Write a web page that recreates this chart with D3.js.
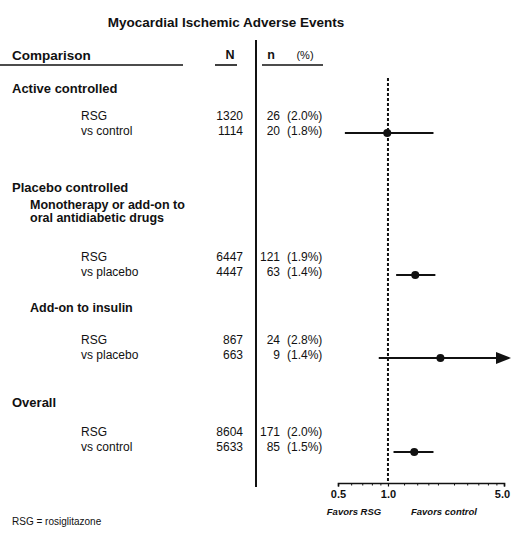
<!DOCTYPE html>
<html>
<head>
<meta charset="utf-8">
<script src="https://cdn.jsdelivr.net/npm/d3@7"></script>
<style>
  html, body { margin: 0; padding: 0; background: #fff; }
  svg { display: block; }
  text { font-family: "Liberation Sans", Arial, Helvetica, sans-serif; fill: #111; }
</style>
</head>
<body>
<svg id="chart" width="511" height="533"></svg>
<script>
// ---------------- data ----------------
const chartTitle = "Myocardial Ischemic Adverse Events";
const headerLabels = ["Comparison", "N", "n", "(%)"];
const groupLabels = ["Active controlled", "Placebo controlled", "Overall"];
const subgroupLabels = [["Monotherapy or add-on to", "oral antidiabetic drugs"], ["Add-on to insulin"]];
const armLabels = ["RSG", "vs control", "RSG", "vs placebo", "RSG", "vs placebo", "RSG", "vs control"];
const armN = [1320, 1114, 6447, 4447, 867, 663, 8604, 5633];
const armEvents = [26, 20, 121, 63, 24, 9, 171, 85];
const armPct = ["2.0", "1.8", "1.9", "1.4", "2.8", "1.4", "2.0", "1.5"];
const oddsRatio = [0.99, 1.46, 2.07, 1.44];
const ciLower = [0.55, 1.12, 0.88, 1.08];
const ciUpper = [1.88, 1.93, 5.0, 1.88];
const ciBeyondAxis = [false, false, true, false];
const axisTickLabels = [0.5, 1.0, 5.0];
const axisMinorTicks = [0.6, 0.7, 0.8, 0.9, 1.25, 1.5, 1.75, 2, 2.5, 3, 3.5, 4, 4.5];
const favorLabels = ["Favors RSG", "Favors control"];
const footnote = "RSG = rosiglitazone";

// ---------------- layout ----------------
const svg = d3.select("#chart");
const x = d3.scaleLog().domain([0.5, 5]).range([338, 504]);
const armY = [116, 131, 257, 272, 340, 355, 432, 447];
const groupY = [88, 187, 402];
const subgroupY = [[205, 218], [308]];
const ciY = [133, 275, 358, 452];
const axisY = 483;

// title
svg.append("text").attr("x", 226).attr("y", 22).attr("dy", "0.35em")
  .attr("text-anchor", "middle").attr("font-size", 13.5).attr("font-weight", "bold")
  .text(chartTitle);

// header
const hdrY = 55;
svg.append("text").attr("x", 12).attr("y", hdrY).attr("dy", "0.35em")
  .attr("font-size", 13.5).attr("font-weight", "bold").text(headerLabels[0]);
svg.append("text").attr("x", 230).attr("y", hdrY).attr("dy", "0.35em").attr("text-anchor", "middle")
  .attr("font-size", 12.5).attr("font-weight", "bold").text(headerLabels[1]);
svg.append("text").attr("x", 271).attr("y", hdrY).attr("dy", "0.35em").attr("text-anchor", "middle")
  .attr("font-size", 12.5).attr("font-weight", "bold").text(headerLabels[2]);
svg.append("text").attr("x", 305).attr("y", hdrY).attr("dy", "0.35em").attr("text-anchor", "middle")
  .attr("font-size", 11).text(headerLabels[3]);

const ul = [[0, 183], [215, 237], [262, 323]];
svg.selectAll("line.ul").data(ul).join("line").attr("class", "ul")
  .attr("x1", d => d[0]).attr("x2", d => d[1]).attr("y1", 65).attr("y2", 65)
  .attr("stroke", "#111").attr("stroke-width", 1.6);

// vertical separator
svg.append("line").attr("x1", 256).attr("x2", 256).attr("y1", 40).attr("y2", 487)
  .attr("stroke", "#111").attr("stroke-width", 2);

// group labels
svg.selectAll("text.grp").data(groupLabels).join("text").attr("class", "grp")
  .attr("x", 12).attr("y", (d, i) => groupY[i]).attr("dy", "0.35em")
  .attr("font-size", 13).attr("font-weight", "bold").text(d => d);

// subgroup labels
subgroupLabels.forEach((lines, gi) => {
  lines.forEach((t, li) => {
    svg.append("text").attr("x", 30).attr("y", subgroupY[gi][li]).attr("dy", "0.35em")
      .attr("font-size", 12.5).attr("font-weight", "bold").text(t);
  });
});

// arm rows
const rows = armLabels.map((lab, i) => ({ lab, n: armN[i], ev: armEvents[i], pct: armPct[i], y: armY[i] }));
const rowG = svg.selectAll("g.row").data(rows).join("g").attr("class", "row");
rowG.append("text").attr("x", 81).attr("y", d => d.y).attr("dy", "0.35em")
  .attr("font-size", 12).text(d => d.lab);
rowG.append("text").attr("x", 243).attr("y", d => d.y).attr("dy", "0.35em").attr("text-anchor", "end")
  .attr("font-size", 12).text(d => d.n);
rowG.append("text").attr("x", 280).attr("y", d => d.y).attr("dy", "0.35em").attr("text-anchor", "end")
  .attr("font-size", 12).text(d => d.ev);
rowG.append("text").attr("x", 287).attr("y", d => d.y).attr("dy", "0.35em")
  .attr("font-size", 12).text(d => "(" + d.pct + "%)");

// reference line at 1.0
svg.append("line").attr("x1", x(1)).attr("x2", x(1)).attr("y1", 78).attr("y2", axisY)
  .attr("stroke", "#111").attr("stroke-width", 2).attr("stroke-dasharray", "3,2");

// confidence intervals
const est = oddsRatio.map((or, i) => ({ or, lo: ciLower[i], hi: ciUpper[i], arrow: ciBeyondAxis[i], y: ciY[i] }));
svg.selectAll("line.ci").data(est).join("line").attr("class", "ci")
  .attr("x1", d => x(d.lo)).attr("x2", d => d.arrow ? x(d.hi) - 6 : x(d.hi))
  .attr("y1", d => d.y).attr("y2", d => d.y)
  .attr("stroke", "#111").attr("stroke-width", 2.2);
svg.selectAll("path.arrow").data(est.filter(d => d.arrow)).join("path").attr("class", "arrow")
  .attr("d", d => {
    const tip = x(d.hi) + 7;
    return `M${tip},${d.y} L${tip - 15},${d.y - 6} L${tip - 15},${d.y + 6} Z`;
  })
  .attr("fill", "#111");
svg.selectAll("circle.pt").data(est).join("circle").attr("class", "pt")
  .attr("cx", d => x(d.or)).attr("cy", d => d.y).attr("r", 4).attr("fill", "#111");

// axis
const axis = d3.axisBottom(x).tickValues(axisTickLabels).tickSize(3.5).tickFormat(d3.format(".1f"));
const ag = svg.append("g").attr("transform", `translate(0,${axisY})`).call(axis);
ag.select(".domain").attr("stroke", "#111").attr("stroke-width", 1.6);
ag.selectAll(".tick line").attr("stroke", "#111").attr("stroke-width", 1.2);
ag.selectAll(".tick text").attr("y", 7).attr("font-size", 11).attr("font-weight", "bold")
  .attr("font-family", "\"Liberation Sans\", Arial, sans-serif").attr("fill", "#111")
  .attr("dx", d => d === 5 ? -2 : 0);
const minor = d3.axisBottom(x).tickValues(axisMinorTicks).tickSize(2.5).tickFormat("");
const mg = svg.append("g").attr("transform", `translate(0,${axisY})`).call(minor);
mg.select(".domain").remove();
mg.selectAll(".tick line").attr("stroke", "#111").attr("stroke-width", 1);

// favors labels
const favX = [354, 444];
svg.selectAll("text.fav").data(favorLabels).join("text").attr("class", "fav")
  .attr("x", (d, i) => favX[i]).attr("y", 512).attr("dy", "0.35em").attr("text-anchor", "middle")
  .attr("font-size", 9.5).attr("font-weight", "bold").attr("font-style", "italic").text(d => d);

// footnote
svg.append("text").attr("x", 12).attr("y", 521).attr("dy", "0.35em")
  .attr("font-size", 10).text(footnote);
</script>
</body>
</html>
